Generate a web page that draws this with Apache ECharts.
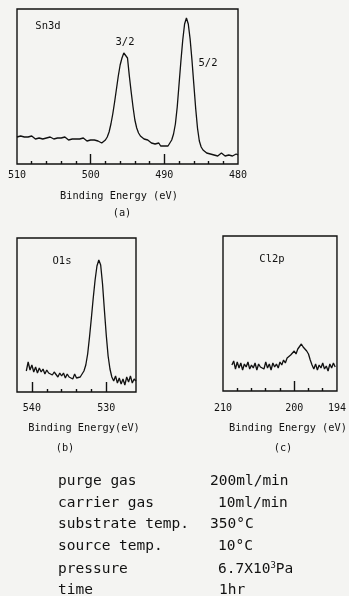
<!DOCTYPE html>
<html>
<head>
<meta charset="utf-8">
<script src="https://cdn.jsdelivr.net/npm/echarts@6/dist/echarts.min.js"></script>
<style>
html,body{margin:0;padding:0;background:#f4f4f2;}
#chart{width:349px;height:596px;}
</style>
</head>
<body>
<div id="chart"></div>
<script>
// ---- Data: [binding energy (eV), intensity (a.u.)] ----
const sn3d = [
[510.0,27],[509.75,26],[509.5,28],[509.25,26],[509.0,27],[508.75,25],[508.5,27],[508.25,26],
[508.0,28],[507.75,26],[507.5,25],[507.25,27],[507.0,26],[506.75,28],[506.5,25],[506.25,27],
[506.0,26],[505.75,25],[505.5,27],[505.25,26],[505.0,25],[504.75,27],[504.5,26],[504.25,24],
[504.0,26],[503.75,25],[503.5,27],[503.25,25],[503.0,24],[502.75,26],[502.5,25],[502.25,24],
[502.0,25],[501.75,23],[501.5,25],[501.25,24],[501.0,26],[500.75,24],[500.5,23],[500.25,25],
[500.0,24],[499.75,23],[499.5,24],[499.25,22],[499.0,23],[498.75,22],[498.5,21],[498.25,23],
[498.0,24],[497.75,27],[497.5,32],[497.25,40],[497.0,50],[496.75,62],[496.5,75],[496.25,88],
[496.0,99],[495.75,106],[495.5,111],[495.25,112],[495.0,106],[494.75,88],[494.5,72],[494.25,57],
[494.0,44],[493.75,36],[493.5,31],[493.25,28],[493.0,26],[492.75,25],[492.5,23],[492.25,24],
[492.0,22],[491.75,21],[491.5,22],[491.25,20],[491.0,19],[490.75,21],[490.5,18],[490.25,17],
[490.0,18],[489.75,17],[489.5,18],[489.25,20],[489.0,24],[488.75,30],[488.5,40],[488.25,57],
[488.0,80],[487.75,103],[487.5,124],[487.25,140],[487.0,146],[486.75,140],[486.5,125],[486.25,104],
[486.0,80],[485.75,56],[485.5,36],[485.25,23],[485.0,17],[484.75,14],[484.5,12],[484.25,11],
[484.0,12],[483.75,10],[483.5,11],[483.25,9],[483.0,10],[482.75,8],[482.5,9],[482.25,11],
[482.0,9],[481.75,8],[481.5,10],[481.25,9],[481.0,11],[480.75,8],[480.5,9],[480.25,10],[480.0,9]
];
const o1s = [
[540.75,21],[540.5,30],[540.25,22],[540.0,27],[539.75,20],[539.5,25],[539.25,19],[539.0,24],
[538.75,20],[538.5,23],[538.25,18],[538.0,22],[537.75,19],[537.5,21],[537.25,17],[537.0,20],
[536.75,18],[536.5,15],[536.25,19],[536.0,16],[535.75,19],[535.5,14],[535.25,18],[535.0,15],
[534.75,17],[534.5,13],[534.25,18],[534.0,14],[533.75,16],[533.5,15],[533.25,18],[533.0,21],
[532.75,27],[532.5,38],[532.25,55],[532.0,74],[531.75,94],[531.5,112],[531.25,126],[531.0,132],
[530.75,127],[530.5,108],[530.25,82],[530.0,57],[529.75,36],[529.5,23],[529.25,15],[529.0,11],
[528.75,16],[528.5,9],[528.25,14],[528.0,8],[527.75,13],[527.5,7],[527.25,15],[527.0,10],
[526.75,16],[526.5,9],[526.25,13],[526.0,11]
];
const cl2p = [
[208.75,26],[208.5,30],[208.25,22],[208.0,29],[207.75,23],[207.5,28],[207.25,21],[207.0,27],
[206.75,24],[206.5,29],[206.25,22],[206.0,26],[205.75,23],[205.5,28],[205.25,21],[205.0,27],
[204.75,24],[204.5,26],[204.25,22],[204.0,29],[203.75,23],[203.5,27],[203.25,21],[203.0,28],
[202.75,24],[202.5,27],[202.25,23],[202.0,29],[201.75,26],[201.5,31],[201.25,28],[201.0,33],
[200.75,31],[200.5,36],[200.25,34],[200.0,40],[199.75,37],[199.5,42],[199.25,40],[199.0,47],
[198.75,44],[198.5,45],[198.25,40],[198.0,37],[197.75,31],[197.5,26],[197.25,22],[197.0,27],
[196.75,21],[196.5,26],[196.25,23],[196.0,28],[195.75,22],[195.5,25],[195.25,20],[195.0,27],
[194.75,23],[194.5,28],[194.25,24]
];
// ---- Axis ticks / labels ----
const snLabels = [510, 500, 490, 480];
const snMajor = [500, 490];
const snMinor = [508, 506, 504, 502, 498, 496, 494, 492, 488, 486, 484, 482];
const oLabels = [540, 530];
const oMajor = [540, 530];
const oMinor = [538, 536, 534, 532];
const clLabels = [210, 200, 194];
const clMajor = [200];
const clMinor = [208, 206, 204, 202, 198, 196];
// ---- Condition table ----
const condNames = ['purge gas', 'carrier gas', 'substrate temp.', 'source temp.', 'pressure', 'time'];
const condValues = ['200ml/min', '10ml/min', '350°C', '10°C', '6.7X10{sup|3}Pa', '1hr'];

const INK = '#111';
const MONO = '"DejaVu Sans Mono", "Liberation Mono", monospace';

const panels = [
  {grid:{left:17, top:9, width:221, height:155}, min:480, max:510, ymax:155, labels:snLabels, major:snMajor, minor:snMinor, margin:6, data:sn3d},
  {grid:{left:17, top:238, width:119, height:154}, min:526, max:542, ymax:154, labels:oLabels, major:oMajor, minor:oMinor, margin:11, data:o1s},
  {grid:{left:223, top:236, width:116, height:155}, min:194, max:210, ymax:155, labels:clLabels, major:clMajor, minor:clMinor, margin:12, data:cl2p}
];

const grids = [], xAxes = [], yAxes = [], series = [];
panels.forEach((p, i) => {
  grids.push(Object.assign({show:true, borderColor:INK, borderWidth:1.4, backgroundColor:'transparent'}, p.grid));
  xAxes.push({
    gridIndex:i, type:'value', min:p.min, max:p.max, inverse:true, position:'bottom',
    axisLine:{show:false}, splitLine:{show:false},
    axisTick:{show:true, inside:true, length:10, customValues:p.major, lineStyle:{color:INK, width:1.4}},
    axisLabel:{show:true, customValues:p.labels, margin:p.margin, fontSize:10, fontFamily:MONO, color:'#111', hideOverlap:false}
  });
  xAxes.push({
    gridIndex:i, type:'value', min:p.min, max:p.max, inverse:true, position:'bottom',
    axisLine:{show:false}, splitLine:{show:false}, axisLabel:{show:false},
    axisTick:{show:true, inside:true, length:3, customValues:p.minor, lineStyle:{color:INK, width:1.4}}
  });
  yAxes.push({gridIndex:i, type:'value', min:0, max:p.ymax, show:false});
  series.push({
    type:'line', xAxisIndex:i*2, yAxisIndex:i, data:p.data, showSymbol:false, symbol:'none',
    lineStyle:{color:INK, width:1.3}, animation:false, silent:true
  });
});

function txt(x, y, s, size, align) {
  return {type:'text', x:x, y:y, silent:true,
    style:{text:s, fill:'#111', font:'normal ' + size + 'px ' + MONO, textAlign:align || 'center', textVerticalAlign:'middle',
      rich:{sup:{fontSize:9, fontFamily:MONO, fill:'#111', verticalAlign:'top', padding:[0,0,7,0]}}}};
}

const graphics = [
  txt(48, 26, 'Sn3d', 10.5), txt(125, 42, '3/2', 10.5), txt(208, 63, '5/2', 10.5),
  txt(62, 261, 'O1s', 10.5), txt(272, 259, 'Cl2p', 10.5),
  txt(119, 196, 'Binding Energy (eV)', 10.3), txt(122, 213, '(a)', 10.3),
  txt(84, 428, 'Binding Energy(eV)', 10.3), txt(65, 448, '(b)', 10.3),
  txt(288, 428, 'Binding Energy (eV)', 10.3), txt(283, 448, '(c)', 10.3)
];
const rowY = [481, 503, 524, 546, 569, 590];
const valX = [210, 218, 210, 218, 218, 219];
condNames.forEach((n, i) => {
  graphics.push(txt(58, rowY[i], n, 14.5, 'left'));
  graphics.push(txt(valX[i], rowY[i], condValues[i], 14.5, 'left'));
});

const chart = echarts.init(document.getElementById('chart'), null, {renderer:'canvas'});
chart.setOption({
  backgroundColor:'#f4f4f2',
  animation:false,
  grid:grids, xAxis:xAxes, yAxis:yAxes, series:series,
  graphic:graphics
});
</script>
</body>
</html>
